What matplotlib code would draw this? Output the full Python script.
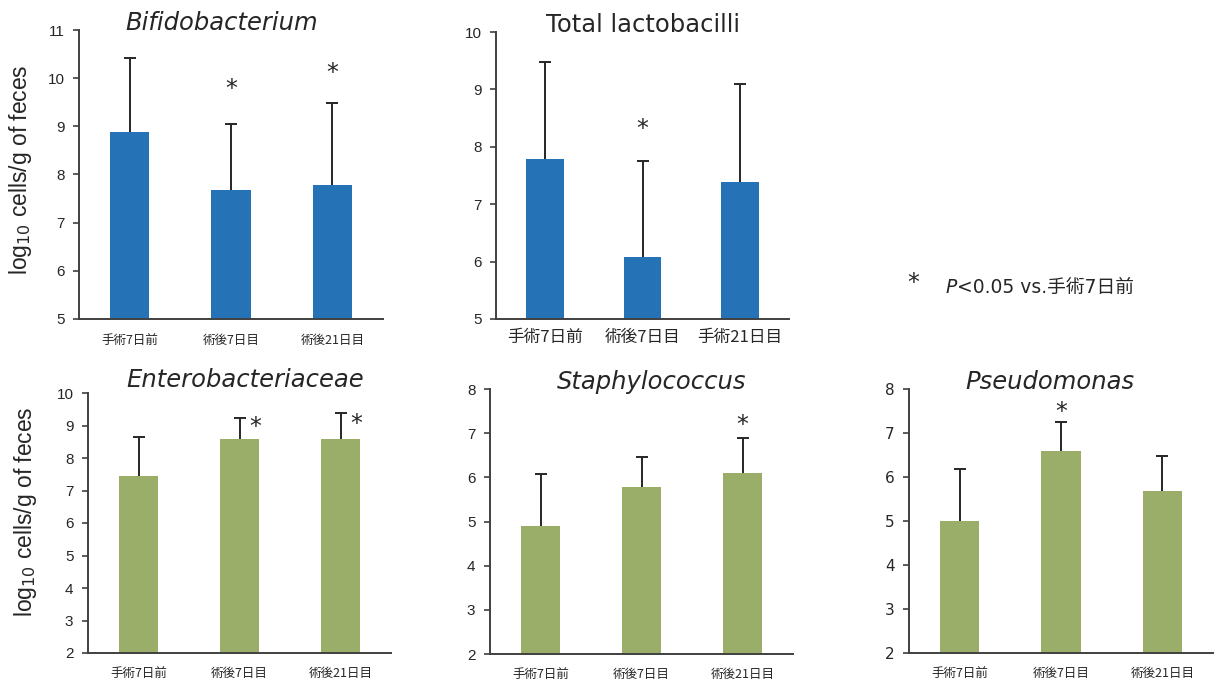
import matplotlib
matplotlib.use('Agg')
from matplotlib import pyplot as plt
from matplotlib import transforms
import numpy as np

plt.rcParams['font.family'] = ['DejaVu Sans', 'Noto Sans CJK JP']

cats_main = ['手術7日前', '術後7日目', '術後21日目']
cats_lacto = ['手術7日前', '術後7日目', '手術21日目']

bifido_mean = [8.88, 7.68, 7.78]
bifido_upper = [10.41, 9.05, 9.48]
bifido_star = [None, 9.89, 10.24]

lacto_mean = [7.78, 6.08, 7.38]
lacto_upper = [9.48, 7.75, 9.09]
lacto_star = [None, 8.41, None]

entero_mean = [7.46, 8.58, 8.58]
entero_upper = [8.66, 9.24, 9.38]
entero_star = [None, 9.15, 9.23]

staph_mean = [4.89, 5.79, 6.09]
staph_upper = [6.08, 6.45, 6.89]
staph_star = [None, None, 7.31]

pseudo_mean = [4.99, 6.59, 5.69]
pseudo_upper = [6.18, 7.25, 6.48]
pseudo_star = [None, 7.62, None]

BLUE = '#2573b6'
GREEN = '#9aae69'
DARK = '#262626'
STAR_SIZE = 17

W, H = 1215, 682
fig = plt.figure(figsize=(W / 100, H / 100), dpi=100)


def make_axes(left, top, right, bottom):
    return fig.add_axes([left / W, 1 - bottom / H, (right - left) / W, (bottom - top) / H])


def panel(ax, cats, mean, upper, star, ylim, color, title, italic=True,
          cat_size=9, star_dx=0.0, title_dx=0.0, pad=10, tick_font='Liberation Sans'):
    x = np.arange(len(cats))
    mean = np.array(mean)
    upper = np.array(upper)
    ax.bar(x, mean - ylim[0], bottom=ylim[0], width=0.385, color=color, zorder=2)
    eb = ax.errorbar(x, mean, yerr=[np.zeros(len(mean)), upper - mean], fmt='none',
                     ecolor=DARK, elinewidth=1.4, capsize=4, capthick=1.4, zorder=1)
    eb[1][0].set_visible(False)
    # asterisk glyph centre sits about 0.55 em above the baseline
    star_tr = transforms.offset_copy(ax.transData, fig=fig, y=-0.55 * STAR_SIZE, units='points')
    for xi, s in zip(x, star):
        if s is not None:
            ax.text(xi + star_dx, s, '*', ha='center', va='baseline', fontsize=STAR_SIZE,
                    color=DARK, family=['DejaVu Sans'], transform=star_tr)
    ax.set_xlim(-0.5, len(cats) - 0.5)
    ax.set_ylim(*ylim)
    ax.set_yticks(np.arange(ylim[0], ylim[1] + 1))
    ax.set_xticks(x)
    ax.set_xticklabels(cats, fontsize=cat_size, color=DARK, family=['Noto Sans CJK JP'])
    for lab in ax.get_yticklabels():
        lab.set_family([tick_font])
        lab.set_fontsize(11)
        lab.set_color(DARK)
    ax.tick_params(axis='x', length=0, pad=pad)
    ax.tick_params(axis='y', length=4, width=1.2, color='#404040', pad=6.5)
    for sp in ['top', 'right']:
        ax.spines[sp].set_visible(False)
    for sp in ['left', 'bottom']:
        ax.spines[sp].set_color('#404040')
        ax.spines[sp].set_linewidth(1.4)
    ax.text(0.5 + title_dx, 1.0, title, transform=ax.transAxes, ha='center', va='baseline',
            fontsize=17.5, color=DARK, style='italic' if italic else 'normal')


ax1 = make_axes(79, 30, 383, 319)
panel(ax1, cats_main, bifido_mean, bifido_upper, bifido_star, (5, 11), BLUE,
      'Bifidobacterium', title_dx=-0.03, pad=11)

ax2 = make_axes(496, 32, 789, 319)
panel(ax2, cats_lacto, lacto_mean, lacto_upper, lacto_star, (5, 10), BLUE,
      'Total lactobacilli', italic=False, cat_size=12, pad=7)

ax3 = make_axes(88, 393, 391, 653)
panel(ax3, cats_main, entero_mean, entero_upper, entero_star, (2, 10), GREEN,
      'Enterobacteriaceae', star_dx=0.16, title_dx=0.02, pad=10)
ax3.texts[-1].set_y(1.025)

ax4 = make_axes(490, 389, 793, 654)
panel(ax4, cats_main, staph_mean, staph_upper, staph_star, (2, 8), GREEN,
      'Staphylococcus', title_dx=0.035, pad=10)

ax5 = make_axes(909, 389, 1213, 653)
panel(ax5, cats_main, pseudo_mean, pseudo_upper, pseudo_star, (2, 8), GREEN,
      'Pseudomonas', title_dx=-0.035, pad=10, tick_font='DejaVu Sans')

ylab = 'log$_{10}$ cells/g of feces'
fig.text(21 / W, 1 - 170 / H, ylab, rotation=90, ha='center', va='center',
         fontsize=16.5, color=DARK, family=['Liberation Sans'])
fig.text(26 / W, 1 - 512 / H, ylab, rotation=90, ha='center', va='center',
         fontsize=16.5, color=DARK, family=['Liberation Sans'])

legend_tr = transforms.offset_copy(fig.transFigure, fig=fig, y=-0.55 * STAR_SIZE, units='points')
fig.text(913 / W, 1 - 277 / H, '*', ha='center', va='baseline', fontsize=STAR_SIZE,
         color=DARK, transform=legend_tr)
fig.text(945 / W, 1 - 287 / H, 'P', ha='left', va='center', fontsize=13.5,
         style='italic', color=DARK)
fig.text(957 / W, 1 - 287 / H, '<0.05 vs.手術7日前', ha='left', va='center',
         fontsize=13.5, color=DARK)

fig.savefig('out.png', dpi=100)
